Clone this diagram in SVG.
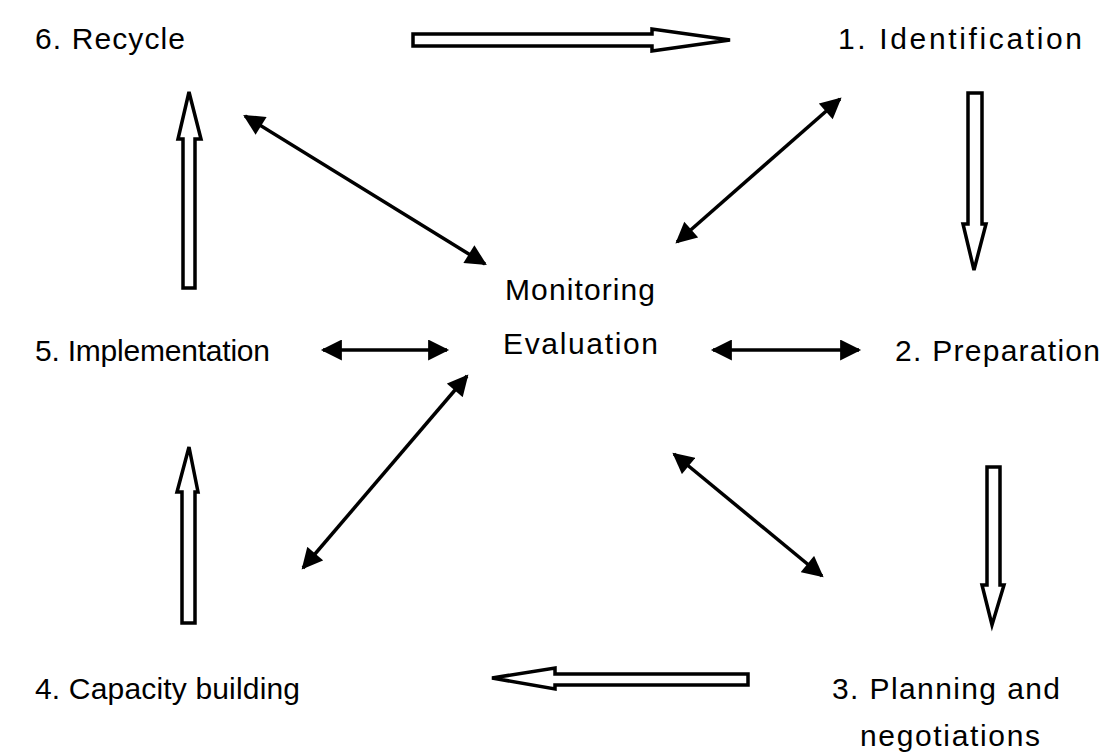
<svg xmlns="http://www.w3.org/2000/svg" width="1104" height="753" viewBox="0 0 1104 753">
<defs>
<style>
text{font-family:"Liberation Sans",Arial,sans-serif;font-size:30px;fill:#000}
.hollow{fill:#fff;stroke:#000;stroke-width:3.5;stroke-linejoin:miter}
.dbl{stroke:#000;stroke-width:3.5;fill:none;marker-start:url(#ah);marker-end:url(#ah)}
</style>
<marker id="ah" viewBox="0 0 10 10" refX="9" refY="5" markerWidth="6.3" markerHeight="6" orient="auto-start-reverse" markerUnits="strokeWidth">
<path d="M0,0 L10,5 L0,10 z" fill="#000"/>
</marker>
</defs>
<rect width="1104" height="753" fill="#fff"/>
<g id="n6"><text x="35" y="49" textLength="150">6. Recycle</text></g>
<g id="n1"><text x="838" y="49" textLength="244">1. Identification</text></g>
<g id="center"><text x="505" y="300" textLength="150">Monitoring</text><text x="503" y="354" textLength="155">Evaluation</text></g>
<g id="n5"><text x="35" y="361" textLength="235">5. Implementation</text></g>
<g id="n2"><text x="895" y="361" textLength="205">2. Preparation</text></g>
<g id="n4"><text x="35" y="699" textLength="265">4. Capacity building</text></g>
<g id="n3"><text x="832" y="699" textLength="228">3. Planning and</text><text x="860" y="746" textLength="180">negotiations</text></g>
<g id="connectors">
<path class="hollow" d="M413,34 L652,34 L652,29 L730,40 L652,51 L652,46 L413,46 Z"/>
<path class="hollow" d="M968,93 L982,93 L982,224 L986,224 L974,270 L963,224 L968,224 Z"/>
<path class="hollow" d="M987,467 L1000,467 L1000,585 L1004,585 L992,625 L982,585 L987,585 Z"/>
<path class="hollow" d="M748,674 L555,674 L555,668 L492,678 L555,689 L555,685 L748,685 Z"/>
<path class="hollow" d="M182,623 L195,623 L195,492 L198,492 L189,447 L177,492 L182,492 Z"/>
<path class="hollow" d="M183,288 L195,288 L195,139 L201,139 L189,92 L178,139 L183,139 Z"/>
<line class="dbl" x1="245" y1="116" x2="485" y2="264"/>
<line class="dbl" x1="840" y1="99" x2="677" y2="242"/>
<line class="dbl" x1="323" y1="350" x2="447" y2="350"/>
<line class="dbl" x1="713" y1="350" x2="859" y2="350"/>
<line class="dbl" x1="467" y1="376" x2="303" y2="568"/>
<line class="dbl" x1="674" y1="454" x2="822" y2="576"/>
</g>
</svg>
